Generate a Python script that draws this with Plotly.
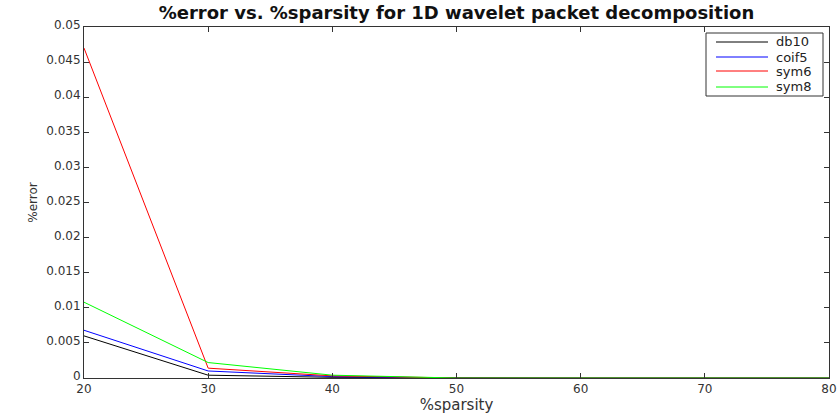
import plotly.graph_objects as go

sparsity = [20, 30, 40, 50, 60, 70, 80]
db10 = [0.0060, 0.0004, 0.0001, 0.0, 0.0, 0.0, 0.0]
coif5 = [0.0068, 0.0010, 0.0002, 0.0, 0.0, 0.0, 0.0]
sym6 = [0.0470, 0.0014, 0.0003, 0.0, 0.0, 0.0, 0.0]
sym8 = [0.0108, 0.0022, 0.0004, 0.0, 0.0, 0.0, 0.0]

names = ["db10", "coif5", "sym6", "sym8"]
values = [db10, coif5, sym6, sym8]
colors = ["#000000", "#0000ff", "#ff0000", "#00ff00"]

y_ticks = [0, 0.005, 0.01, 0.015, 0.02, 0.025, 0.03, 0.035, 0.04, 0.045, 0.05]
y_labels = ["0", "0.005", "0.01", "0.015", "0.02", "0.025", "0.03", "0.035", "0.04", "0.045", "0.05"]
x_ticks = [20, 30, 40, 50, 60, 70, 80]

W, H = 837, 415
L, R, T, B = 84, 8, 27, 37
PW, PH = W - L - R, H - T - B


def px(x):
    return (x - L) / PW


def py(y):
    return (H - B - y) / PH


font = "DejaVu Sans, Liberation Sans, Arial, sans-serif"
fig = go.Figure()
for name, vals, col in zip(names, values, colors):
    fig.add_trace(go.Scatter(x=sparsity, y=vals, mode="lines", name=name,
                             line=dict(color=col, width=1), showlegend=False))

# MATLAB-style legend box
shapes = [dict(type="rect", xref="paper", yref="paper",
               x0=px(706), x1=px(823), y0=py(96), y1=py(33),
               fillcolor="white", line=dict(color="#333333", width=1), layer="above")]
annotations = []
row_y = [42, 57, 71, 87]
for name, col, ry in zip(names, colors, row_y):
    shapes.append(dict(type="line", xref="paper", yref="paper",
                       x0=px(716), x1=px(768), y0=py(ry), y1=py(ry),
                       line=dict(color=col, width=1), layer="above"))
    annotations.append(dict(text=name, xref="paper", yref="paper",
                            x=px(774), y=py(ry), xanchor="left", yanchor="middle",
                            showarrow=False, font=dict(family=font, size=13, color="#222222")))

fig.update_layout(
    width=W, height=H,
    margin=dict(l=L, r=R, t=T, b=B),
    paper_bgcolor="white", plot_bgcolor="white",
    title=dict(text="<b>%error vs. %sparsity for 1D wavelet packet decomposition</b>",
               xref="paper", x=0.5, xanchor="center", y=1 - 13 / H, yanchor="middle",
               font=dict(family=font, size=18, color="#111111")),
    font=dict(family=font, size=12, color="#333333"),
    showlegend=False,
    shapes=shapes,
    annotations=annotations,
)
fig.update_xaxes(range=[20, 80], tickvals=x_ticks, ticks="inside", ticklen=5,
                 tickcolor="#333333", tickfont=dict(size=12),
                 automargin=False,
                 showline=True, linecolor="#333333", linewidth=1, mirror="ticks",
                 showgrid=False, zeroline=False,
                 title=dict(text="%sparsity", standoff=2, font=dict(size=15)))
fig.update_yaxes(range=[0, 0.05], tickvals=y_ticks, ticktext=y_labels,
                 ticks="inside", ticklen=5, tickcolor="#333333", tickfont=dict(size=12),
                 ticklabelshift=-2, automargin=False,
                 showline=True, linecolor="#333333", linewidth=1, mirror="ticks",
                 showgrid=False, zeroline=False,
                 title=dict(text="%error", standoff=6, font=dict(size=12)))

fig.write_html("out.html")
